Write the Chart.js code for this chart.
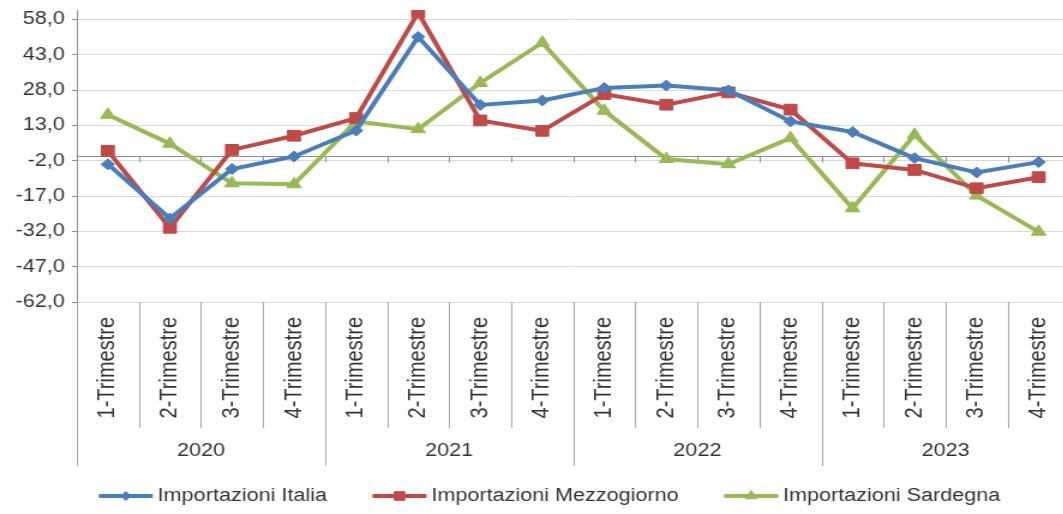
<!DOCTYPE html>
<html>
<head>
<meta charset="utf-8">
<script src="https://cdn.jsdelivr.net/npm/chart.js@4.4.1/dist/chart.umd.min.js"></script>
<style>
  html, body { margin: 0; padding: 0; background: #fff; overflow: hidden; width: 1063px; height: 514px; }
  #wrap { width: 900px; height: 514px; transform: scaleX(1.2); transform-origin: 0 0; }
</style>
</head>
<body>
<div id="wrap"><canvas id="chart"></canvas></div>
<script>
const quarters = [
  '1-Trimestre', '2-Trimestre', '3-Trimestre', '4-Trimestre',
  '1-Trimestre', '2-Trimestre', '3-Trimestre', '4-Trimestre',
  '1-Trimestre', '2-Trimestre', '3-Trimestre', '4-Trimestre',
  '1-Trimestre', '2-Trimestre', '3-Trimestre', '4-Trimestre'
];
const years = ['2020', '2021', '2022', '2023'];
const italia = [-3.5, -26.5, -5.5, -0.2, 10.8, 50.6, 21.7, 23.6, 28.9, 29.9, 27.9, 14.7, 10.2, -0.9, -7.0, -2.6];
const mezzogiorno = [2.2, -30.5, 2.6, 8.6, 16.1, 60.9, 15.1, 10.7, 26.3, 21.8, 27.0, 19.7, -3.1, -5.9, -13.7, -9.0];
const sardegna = [17.5, 5.2, -11.6, -12.0, 14.7, 11.4, 31.0, 48.1, 19.2, -1.3, -3.5, 7.6, -22.2, 9.0, -16.8, -32.2];
const yTicks = [-62, -47, -32, -17, -2, 13, 28, 43, 58];

const FONT = "'Liberation Sans', Arial, sans-serif";
const TEXT = '#333333';
const AXIS = '#8c8c8c';

// axis at zero, category boxes, year row and legend
const excelAxis = {
  id: 'excelAxis',
  beforeDatasetsDraw(chart) {
    const ctx = chart.ctx, xs = chart.scales.x, ys = chart.scales.y, a = chart.chartArea;
    const w = xs.getPixelForValue(1) - xs.getPixelForValue(0);
    const y0 = Math.round(ys.getPixelForValue(0)) + 0.5;
    ctx.save();
    ctx.strokeStyle = AXIS;
    ctx.lineWidth = 1;
    ctx.beginPath();
    ctx.moveTo(a.left, y0);
    ctx.lineTo(a.right, y0);
    for (let i = 0; i <= quarters.length; i++) {
      const x = Math.round(xs.getPixelForValue(i) - w / 2) + 0.5;
      ctx.moveTo(x, y0);
      ctx.lineTo(x, y0 + 6);
    }
    ctx.stroke();
    ctx.restore();
  },
  afterDraw(chart) {
    const ctx = chart.ctx, xs = chart.scales.x, a = chart.chartArea;
    const w = xs.getPixelForValue(1) - xs.getPixelForValue(0);
    ctx.save();
    ctx.strokeStyle = '#a6a6a6';
    ctx.lineWidth = 1;
    ctx.beginPath();
    for (let i = 0; i <= quarters.length; i++) {
      const x = Math.round(xs.getPixelForValue(i) - w / 2) + 0.5;
      ctx.moveTo(x, a.bottom);
      ctx.lineTo(x, a.bottom + (i % 4 === 0 ? 164 : 126));
    }
    ctx.stroke();

    ctx.fillStyle = TEXT;
    ctx.font = '20px ' + FONT;
    ctx.textAlign = 'right';
    ctx.textBaseline = 'middle';
    quarters.forEach((q, i) => {
      ctx.save();
      ctx.translate(xs.getPixelForValue(i), a.bottom + 15);
      ctx.rotate(-Math.PI / 2);
      ctx.fillText(q, 0, 0);
      ctx.restore();
    });

    ctx.font = '18px ' + FONT;
    ctx.textAlign = 'center';
    years.forEach((yr, k) => {
      const x = (xs.getPixelForValue(k * 4) + xs.getPixelForValue(k * 4 + 3)) / 2;
      ctx.fillText(yr, x, 451);
    });

    // legend
    const lineLen = 45, gapText = 4, gapItem = 38, ly = 496;
    const sets = chart.data.datasets;
    const widths = sets.map(d => lineLen + gapText + ctx.measureText(d.label).width);
    const total = widths.reduce((s, v) => s + v, 0) + gapItem * (sets.length - 1);
    let x = 458 - total / 2;
    ctx.textAlign = 'left';
    sets.forEach((d, i) => {
      ctx.strokeStyle = d.borderColor;
      ctx.fillStyle = d.backgroundColor;
      ctx.lineWidth = 4;
      ctx.beginPath();
      ctx.moveTo(x, ly);
      ctx.lineTo(x + lineLen, ly);
      ctx.stroke();
      ctx.lineWidth = 1;
      Chart.helpers.drawPoint(ctx, { pointStyle: d.pointStyle, radius: d.pointRadius * 0.8, rotation: 0, borderWidth: 1 }, x + lineLen / 2, ly);
      ctx.fillStyle = TEXT;
      ctx.fillText(d.label, x + lineLen + gapText, ly);
      x += widths[i] + gapItem;
    });
    ctx.restore();
  }
};

new Chart(document.getElementById('chart'), {
  type: 'line',
  data: {
    labels: quarters,
    datasets: [
      { label: 'Importazioni Italia', data: italia, borderColor: '#4a7ebb', backgroundColor: '#4a7ebb', pointStyle: 'rectRot', pointRadius: 5.5 },
      { label: 'Importazioni Mezzogiorno', data: mezzogiorno, borderColor: '#be4b48', backgroundColor: '#be4b48', pointStyle: 'rect', pointRadius: 7.6 },
      { label: 'Importazioni Sardegna', data: sardegna, borderColor: '#98b954', backgroundColor: '#98b954', pointStyle: 'triangle', pointRadius: 7 }
    ].map(d => Object.assign(d, { borderWidth: 4, tension: 0, pointBorderWidth: 1, pointHoverRadius: d.pointRadius }))
  },
  options: {
    responsive: true,
    maintainAspectRatio: false,
    animation: false,
    layout: { padding: { top: 10, right: 7, left: 0, bottom: 0 } },
    plugins: { legend: { display: false }, tooltip: { enabled: false } },
    scales: {
      x: {
        offset: true,
        grid: { display: false },
        border: { display: false },
        ticks: { display: false },
        afterFit(s) { s.height = 212; s.paddingLeft = 0; s.paddingRight = 0; }
      },
      y: {
        min: -62,
        max: 62,
        afterBuildTicks(s) { s.ticks = yTicks.map(v => ({ value: v })); },
        afterFit(s) { s.width = 64; s.paddingTop = 0; s.paddingBottom = 0; },
        grid: { color: '#d9d9d9', tickColor: AXIS, tickLength: 4, lineWidth: 1 },
        border: { color: AXIS, width: 1 },
        ticks: {
          padding: 6,
          color: TEXT,
          font: { family: FONT, size: 18 },
          callback: v => v.toFixed(1).replace('.', ',')
        }
      }
    }
  },
  plugins: [excelAxis]
});
</script>
</body>
</html>
